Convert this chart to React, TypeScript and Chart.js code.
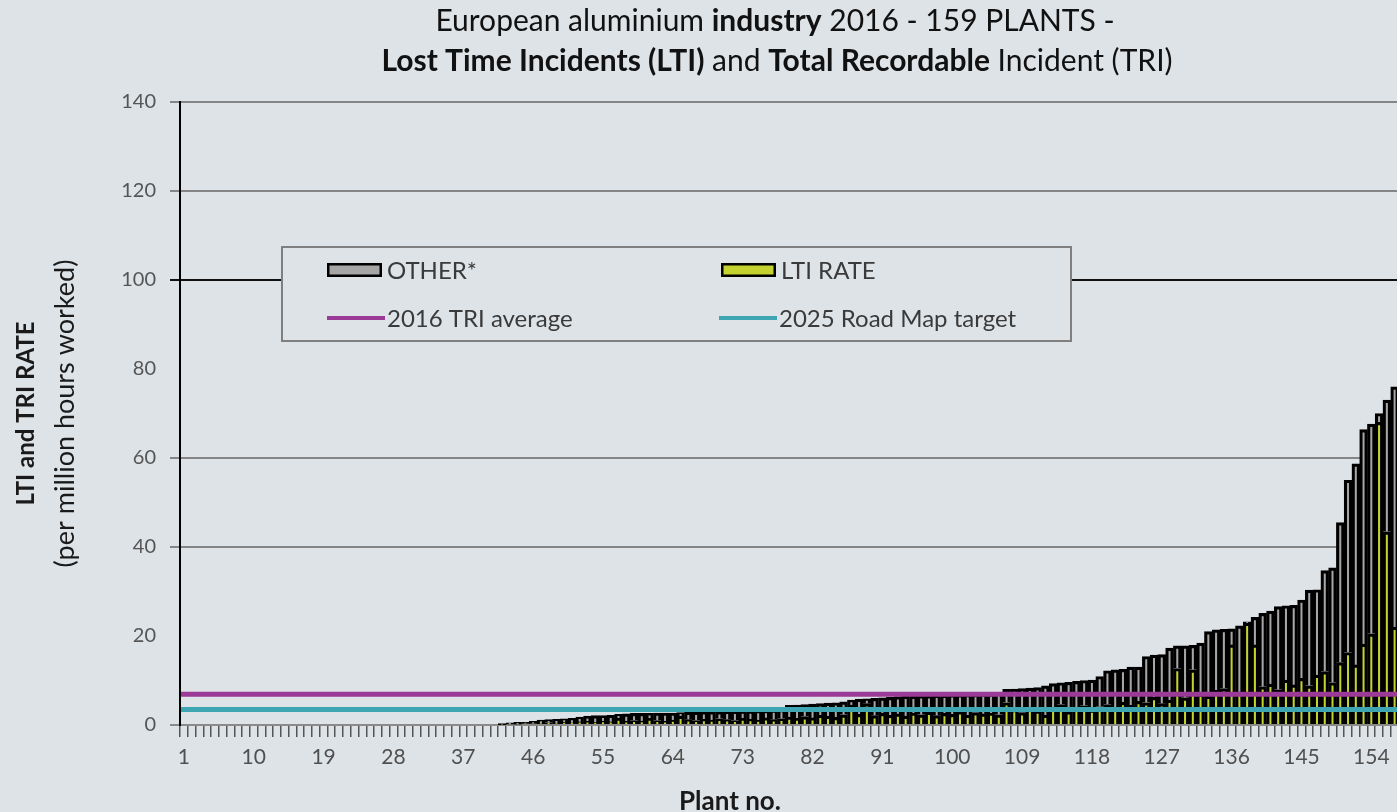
import { useEffect, useRef } from 'react';
import { Chart, registerables } from 'chart.js';

Chart.register(...registerables);

// ---------- data ----------
const PLANTS: string[] = Array.from({ length: 159 }, (_, i) => String(i + 1));

const SHOWN_TICKS = ['1', '10', '19', '28', '37', '46', '55', '64', '73', '82', '91', '100', '109', '118', '127', '136', '145', '154'];

const LTI_RATE = [
  0, 0, 0, 0, 0, 0, 0, 0, 0, 0,
  0, 0, 0, 0, 0, 0, 0, 0, 0, 0,
  0, 0, 0, 0, 0, 0, 0, 0, 0, 0,
  0, 0, 0, 0, 0, 0, 0, 0, 0, 0,
  0, 0.1, 0.2, 0.2, 0.3, 0.3, 0.4, 0.5, 0.4, 0.6,
  0.5, 0.7, 0.8, 0.6, 0.9, 0.7, 1.5, 0.8, 1.0, 0.9,
  1.5, 1.0, 0.8, 1.1, 2.0, 1.2, 1.0, 1.3, 1.1, 1.4,
  1.2, 1.0, 1.5, 1.3, 1.1, 1.6, 1.2, 1.4, 1.8, 1.5,
  1.9, 1.6, 2.2, 2.0, 1.7, 2.3, 4.5, 2.4, 4.8, 2.1,
  2.6, 2.2, 2.5, 2.0, 2.7, 2.3, 2.9, 2.1, 2.6, 2.4,
  3.0, 2.2, 2.8, 2.5, 2.7, 2.3, 5.0, 3.5, 2.8, 4.0,
  3.2, 2.2, 3.6, 4.6, 3.0, 3.9, 4.3, 3.4, 4.1, 4.6,
  3.8, 5.1, 4.4, 5.3, 5.0, 6.2, 4.8, 5.6, 12.7, 6.1,
  12.4, 7.0, 6.5, 7.8, 8.2, 18.0, 7.4, 22.9, 18.0, 8.6,
  9.2, 7.9, 10.1, 9.0, 10.5, 8.8, 11.2, 12.0, 9.5, 14.0,
  16.3, 13.5, 18.2, 20.5, 68.0, 43.4, 22.0, 34.5, 28.0,
];

const OTHER = [
  0, 0, 0, 0, 0, 0, 0, 0, 0, 0,
  0, 0, 0, 0, 0, 0, 0, 0, 0, 0,
  0, 0, 0, 0, 0, 0, 0, 0, 0, 0,
  0, 0, 0, 0, 0, 0, 0, 0, 0, 0,
  0, 0.2, 0.3, 0.4, 0.3, 0.5, 0.7, 0.7, 0.9, 0.8,
  1.0, 1.1, 1.2, 1.5, 1.2, 1.5, 0.9, 1.7, 1.6, 1.7,
  1.1, 1.7, 1.9, 1.6, 0.8, 1.7, 1.9, 1.7, 1.9, 1.6,
  1.9, 2.1, 1.7, 1.9, 2.2, 1.7, 2.2, 2.1, 2.6, 3.0,
  2.7, 3.1, 2.6, 2.9, 3.3, 2.9, 1.1, 3.4, 1.1, 3.9,
  3.5, 4.0, 3.9, 4.5, 3.8, 4.3, 3.7, 4.6, 4.1, 4.4,
  3.8, 4.7, 4.1, 4.5, 4.3, 4.9, 3.0, 4.6, 5.4, 4.3,
  5.2, 6.6, 5.7, 4.9, 6.6, 5.9, 5.7, 6.7, 6.8, 7.6,
  8.6, 7.4, 8.6, 7.7, 10.4, 9.5, 11.0, 11.7, 5.1, 11.7,
  5.5, 11.4, 14.5, 13.6, 13.3, 3.6, 14.9, 0.3, 6.2, 16.5,
  16.4, 18.7, 16.7, 17.9, 17.6, 21.5, 19.2, 22.7, 25.8, 31.5,
  38.7, 45.2, 48.2, 47.1, 2.0, 29.6, 54.0, 45.3, 58.0,
];

const TRI_AVERAGE_2016 = 6.9;
const ROAD_MAP_TARGET_2025 = 3.5;

const Y_TICKS = [0, 20, 40, 60, 80, 100, 120, 140];

// ---------- styles ----------
const BG = '#dee3e7';
const FONT = 'Lato, "Noto Sans", "DejaVu Sans", sans-serif';
const OTHER_COLOR = '#a6a6a6';
const LTI_COLOR = '#c4d22f';
const TRI_COLOR = '#9b3a97';
const TARGET_COLOR = '#3ea5b3';
const CANVAS_W = 1440;
const CANVAS_H = 812;

const GRID_STYLE: Record<number, string> = {
  0: '#8a8a8a',
  20: 'rgba(0,0,0,0)',
  40: '#858585',
  60: '#858585',
  80: 'rgba(0,0,0,0)',
  100: '#111111',
  120: '#858585',
  140: '#858585',
};

type Seg = { text: string; bold: boolean };

const TITLE_LINES: Seg[][] = [
  [
    { text: 'European aluminium ', bold: false },
    { text: 'industry', bold: true },
    { text: ' 2016 - 159 PLANTS -', bold: false },
  ],
  [
    { text: 'Lost Time Incidents (LTI)', bold: true },
    { text: ' and ', bold: false },
    { text: 'Total Recordable', bold: true },
    { text: ' Incident (TRI)', bold: false },
  ],
];

const Y_TITLE: Seg[][] = [
  [{ text: 'LTI and TRI RATE', bold: true }],
  [{ text: '(per million hours worked)', bold: false }],
];

const X_TITLE = 'Plant no.';

function drawSegs(ctx: CanvasRenderingContext2D, segs: Seg[], cx: number, cy: number, size: number, color: string) {
  const fontOf = (b: boolean) => `${b ? 'bold' : 'normal'} ${size}px ${FONT}`;
  let total = 0;
  const widths = segs.map((s) => {
    ctx.font = fontOf(s.bold);
    const w = ctx.measureText(s.text).width;
    total += w;
    return w;
  });
  let x = cx - total / 2;
  ctx.fillStyle = color;
  ctx.textAlign = 'left';
  ctx.textBaseline = 'middle';
  segs.forEach((s, i) => {
    ctx.font = fontOf(s.bold);
    ctx.fillText(s.text, x, cy);
    x += widths[i];
  });
}

const backgroundPlugin = {
  id: 'bgFill',
  beforeDraw(chart: any) {
    const { ctx, width, height } = chart;
    ctx.save();
    ctx.fillStyle = BG;
    ctx.fillRect(0, 0, width, height);
    ctx.restore();
  },
};

const refLinesPlugin = {
  id: 'refLines',
  afterDatasetsDraw(chart: any) {
    const { ctx, chartArea } = chart;
    const y = chart.scales.y;
    const lines = [
      { v: TRI_AVERAGE_2016, c: TRI_COLOR },
      { v: ROAD_MAP_TARGET_2025, c: TARGET_COLOR },
    ];
    ctx.save();
    lines.forEach((l) => {
      const py = y.getPixelForValue(l.v);
      ctx.strokeStyle = l.c;
      ctx.lineWidth = 5;
      ctx.beginPath();
      ctx.moveTo(chartArea.left + 1, py);
      ctx.lineTo(chartArea.right, py);
      ctx.stroke();
    });
    ctx.restore();
  },
};

const textPlugin = {
  id: 'texts',
  afterDraw(chart: any) {
    const { ctx, chartArea } = chart;
    ctx.save();
    // title
    drawSegs(ctx, TITLE_LINES[0], 775, 21, 30, '#111111');
    drawSegs(ctx, TITLE_LINES[1], 777, 61, 30, '#111111');
    // y title
    const cy = (chartArea.top + chartArea.bottom) / 2;
    const ySizes = [24, 27];
    [26, 65].forEach((x, i) => {
      ctx.save();
      ctx.translate(x, cy);
      ctx.rotate(-Math.PI / 2);
      drawSegs(ctx, Y_TITLE[i], 0, 0, ySizes[i], '#1a1a1a');
      ctx.restore();
    });
    // x title
    drawSegs(ctx, [{ text: X_TITLE, bold: true }], 730, 802, 26, '#1a1a1a');

    // legend
    const bx = chartArea.left + 102;
    const by = chartArea.top + 145;
    const bw = 789;
    const bh = 94;
    ctx.fillStyle = BG;
    ctx.fillRect(bx, by, bw, bh);
    ctx.strokeStyle = '#7f7f7f';
    ctx.lineWidth = 2;
    ctx.strokeRect(bx, by, bw, bh);

    const ds = chart.data.datasets;
    const entries = [
      { kind: 'box', color: OTHER_COLOR, label: ds[1].label, x: bx + 45, y: by + 23 },
      { kind: 'box', color: LTI_COLOR, label: ds[0].label, x: bx + 439, y: by + 23 },
      { kind: 'line', color: TRI_COLOR, label: '2016 TRI average', x: bx + 45, y: by + 71 },
      { kind: 'line', color: TARGET_COLOR, label: '2025 Road Map target', x: bx + 437, y: by + 71 },
    ];
    entries.forEach((e) => {
      if (e.kind === 'box') {
        ctx.fillStyle = '#000';
        ctx.fillRect(e.x, e.y - 7, 55, 14);
        ctx.fillStyle = e.color;
        ctx.fillRect(e.x + 2.5, e.y - 4.5, 50, 9);
      } else {
        ctx.strokeStyle = e.color;
        ctx.lineWidth = 4;
        ctx.beginPath();
        ctx.moveTo(e.x, e.y);
        ctx.lineTo(e.x + 58, e.y);
        ctx.stroke();
      }
      ctx.fillStyle = '#3a3a3a';
      ctx.font = `normal 24px ${FONT}`;
      ctx.textAlign = 'left';
      ctx.textBaseline = 'middle';
      ctx.fillText(e.label, e.x + 60, e.y + 1);
    });
    ctx.restore();
  },
};

export default function App() {
  const ref = useRef<HTMLCanvasElement>(null);

  useEffect(() => {
    document.body.style.background = BG;
    const chart = new Chart(ref.current!, {
      type: 'bar',
      data: {
        labels: PLANTS,
        datasets: [
          {
            label: 'LTI RATE',
            data: LTI_RATE,
            backgroundColor: LTI_COLOR,
            borderColor: '#000',
            borderWidth: 3.2,
            barPercentage: 1,
            categoryPercentage: 1,
          },
          {
            label: 'OTHER*',
            data: OTHER,
            backgroundColor: OTHER_COLOR,
            borderColor: '#000',
            borderWidth: 3.2,
            barPercentage: 1,
            categoryPercentage: 1,
          },
        ],
      },
      options: {
        animation: false,
        responsive: true,
        maintainAspectRatio: false,
        events: [],
        layout: { padding: { top: 102, left: 0, right: CANVAS_W - 1414, bottom: 0 } },
        plugins: {
          legend: { display: false },
          title: { display: false },
          tooltip: { enabled: false },
        },
        scales: {
          x: {
            stacked: true,
            ticks: {
              autoSkip: false,
              maxRotation: 0,
              minRotation: 0,
              color: '#505050',
              font: { family: FONT, size: 21 },
              padding: 8,
              callback: (_v: any, i: number) => (SHOWN_TICKS.includes(PLANTS[i]) ? PLANTS[i] : ''),
            },
            grid: { drawOnChartArea: false, tickLength: 12, color: '#555555', lineWidth: 1.5 },
            border: { display: true, color: '#8a8a8a', width: 2 },
            afterFit: (s: any) => {
              s.height = 87;
            },
          },
          y: {
            stacked: true,
            min: 0,
            max: 140,
            afterBuildTicks: (s: any) => {
              s.ticks = Y_TICKS.map((v) => ({ value: v }));
            },
            ticks: {
              color: '#555555',
              font: { family: FONT, size: 20 },
              padding: 14,
            },
            grid: {
              color: (c: any) => GRID_STYLE[c.tick?.value] ?? '#858585',
              lineWidth: 2,
              tickLength: 10,
            },
            border: { display: true, color: '#000', width: 2 },
            afterFit: (s: any) => {
              s.width = 180;
            },
          },
        },
      },
      plugins: [backgroundPlugin, refLinesPlugin, textPlugin],
    } as any);
    return () => chart.destroy();
  }, []);

  return (
    <div style={{ position: 'fixed', left: 0, top: 0, width: CANVAS_W, height: CANVAS_H, background: BG }}>
      <canvas ref={ref} />
    </div>
  );
}
